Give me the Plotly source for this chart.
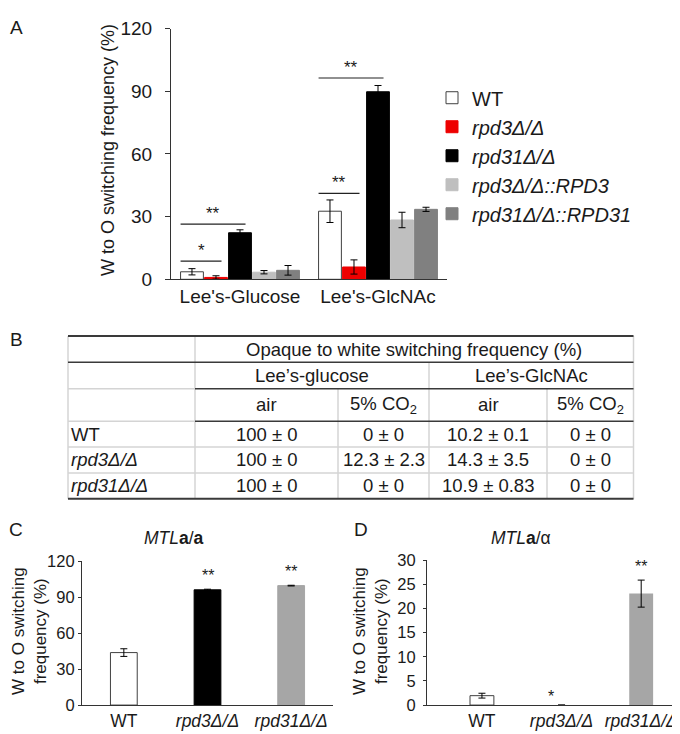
import plotly.graph_objects as go

# ---------------- data ----------------
# Panel A
groups_A = ["Lee's-Glucose", "Lee's-GlcNAc"]
strains_A = ["WT", "<i>rpd3Δ/Δ</i>", "<i>rpd31Δ/Δ</i>", "<i>rpd3Δ/Δ::RPD3</i>", "<i>rpd31Δ/Δ::RPD31</i>"]
values_A = [
    [3.6, 32.6],   # WT
    [0.9, 5.9],    # rpd3
    [22.3, 89.8],  # rpd31
    [3.4, 28.4],   # rpd3::RPD3
    [4.3, 33.5],   # rpd31::RPD31
]
errors_A = [
    [1.5, 5.4],
    [0.8, 3.4],
    [1.4, 3.0],
    [0.8, 3.7],
    [2.3, 1.0],
]
# significance brackets: (group index, compared strain index, height, label)
sig_A = [
    (0, 1, 8.7, "*"),
    (0, 2, 26.4, "**"),
    (1, 1, 41.1, "**"),
    (1, 2, 96.4, "**"),
]
ticks_A = [0, 30, 60, 90, 120]

# Panel B (table)
table_title = "Opaque to white switching frequency (%)"
table_media = ["Lee\u2019s-glucose", "Lee\u2019s-GlcNAc"]
table_cond = ["air", "5% CO<sub>2</sub>", "air", "5% CO<sub>2</sub>"]
table_rows = ["WT", "<i>rpd3Δ/Δ</i>", "<i>rpd31Δ/Δ</i>"]
table_vals = [
    ["100 ± 0", "0 ± 0", "10.2 ± 0.1", "0 ± 0"],
    ["100 ± 0", "12.3 ± 2.3", "14.3 ± 3.5", "0 ± 0"],
    ["100 ± 0", "0 ± 0", "10.9 ± 0.83", "0 ± 0"],
]

# Panel C
cats_C = ["WT", "<i>rpd3Δ/Δ</i>", "<i>rpd31Δ/Δ</i>"]
values_C = [43.8, 96.2, 99.7]
errors_C = [3.2, 0.5, 0.3]
sig_C = ["", "**", "**"]
ticks_C = [0, 30, 60, 90, 120]

# Panel D
cats_D = ["WT", "<i>rpd3Δ/Δ</i>", "<i>rpd31Δ/Δ</i>"]
values_D = [1.95, 0.0, 23.1]
errors_D = [0.5, None, 2.8]
sig_D = ["", "*", "**"]
ticks_D = [0, 5, 10, 15, 20, 25, 30]

# ---------------- styles ----------------
W, H = 680, 734
FONT = "Arial, Liberation Sans, sans-serif"
TXT = "#1a1a1a"
AX = "#333333"
colors_A = ["#ffffff", "#ee0000", "#000000", "#bfbfbf", "#808080"]
lines_A = ["#404040", "#ee0000", "#000000", "#bfbfbf", "#808080"]
colors_C = ["#ffffff", "#000000", "#a6a6a6"]
lines_C = ["#404040", "#000000", "#a6a6a6"]
colors_D = ["#ffffff", "#000000", "#a6a6a6"]
lines_D = ["#404040", "#000000", "#a6a6a6"]
linew_D = [1, 0, 0]


def px(x):
    return x / W


def py(y):
    return 1 - y / H


fig = go.Figure()

# ---------------- Panel A ----------------
for i, name in enumerate(strains_A):
    fig.add_trace(go.Bar(
        x=groups_A, y=values_A[i], name=name,
        marker=dict(color=colors_A[i], line=dict(color=lines_A[i], width=1)),
        error_y=dict(type="data", array=errors_A[i], color="black", thickness=1, width=3.5),
        xaxis="x", yaxis="y",
    ))

bargap_A, bargroupgap_A = 0.13, 0.05
slot = (1 - bargap_A) / len(strains_A)
shapes = []
annotations = []
for g, s, h, lab in sig_A:
    x0 = g - (1 - bargap_A) / 2 + slot * bargroupgap_A / 2
    x1 = g - (1 - bargap_A) / 2 + slot * (s + 0.5) + 0.04
    shapes.append(dict(type="line", xref="x", yref="y", x0=x0, x1=x1, y0=h, y1=h,
                       line=dict(color="#222", width=1.2)))
    annotations.append(dict(xref="x", yref="y", x=(x0 + x1) / 2, y=h, text=lab,
                            showarrow=False, yanchor="bottom", yshift=-1,
                            font=dict(size=17, color=TXT, family=FONT)))

# ---------------- Panel C ----------------
fig.add_trace(go.Bar(
    x=cats_C, y=values_C, width=0.32, showlegend=False,
    marker=dict(color=colors_C, line=dict(color=lines_C, width=1)),
    error_y=dict(type="data", array=errors_C, color="black", thickness=1, width=3.5),
    xaxis="x2", yaxis="y2",
))
for c, v, e, lab in zip(cats_C, values_C, errors_C, sig_C):
    if lab:
        annotations.append(dict(xref="x2", yref="y2", x=c, y=v + e, text=lab, showarrow=False,
                                yanchor="bottom", yshift=3, font=dict(size=16, color=TXT, family=FONT)))

# ---------------- Panel D ----------------
fig.add_trace(go.Bar(
    x=cats_D, y=values_D, width=0.3, showlegend=False,
    marker=dict(color=colors_D, line=dict(color=lines_D, width=linew_D)),
    error_y=dict(type="data", array=errors_D, color="black", thickness=1, width=3.5),
    xaxis="x3", yaxis="y3",
))
for c, v, e, lab in zip(cats_D, values_D, errors_D, sig_D):
    if lab:
        annotations.append(dict(xref="x3", yref="y3", x=c, y=v + (e or 0), text=lab, showarrow=False,
                                xshift=-11 if v == 0 else 0,
                                yanchor="bottom", yshift=-2 if v == 0 else 3,
                                font=dict(size=16, color=TXT, family=FONT)))

# ---------------- Panel B table (drawn) ----------------
col_edges = [60, 187, 330, 421, 539, 625.5]
row_lines = [327.3, 354.3, 381.7, 415, 441.7, 468.3, 495]
dark = "#3a3a3a"
light = "#d4d4d4"
L, R = col_edges[0], col_edges[-1]
# vertical lines
vlines = [(col_edges[0], row_lines[0]), (col_edges[1], row_lines[0]), (col_edges[2], row_lines[2]),
          (col_edges[3], row_lines[1]), (col_edges[4], row_lines[2]), (col_edges[5], row_lines[0])]
for x, ytop in vlines:
    shapes.append(dict(type="line", xref="paper", yref="paper", x0=px(x), x1=px(x),
                       y0=py(ytop), y1=py(row_lines[-1]), line=dict(color=light, width=1.5)))
# horizontal lines
for j in (4, 5):
    shapes.append(dict(type="line", xref="paper", yref="paper", x0=px(L), x1=px(R),
                       y0=py(row_lines[j]), y1=py(row_lines[j]), line=dict(color=light, width=1.5)))
for j in (2, 3):
    shapes.append(dict(type="line", xref="paper", yref="paper", x0=px(L), x1=px(col_edges[1]),
                       y0=py(row_lines[j]), y1=py(row_lines[j]), line=dict(color=light, width=1.5)))
    shapes.append(dict(type="line", xref="paper", yref="paper", x0=px(col_edges[1]), x1=px(R),
                       y0=py(row_lines[j]), y1=py(row_lines[j]), line=dict(color=dark, width=1.5)))
for j, wdt in ((0, 2), (1, 1.5), (6, 2)):
    shapes.append(dict(type="line", xref="paper", yref="paper", x0=px(L), x1=px(R),
                       y0=py(row_lines[j]), y1=py(row_lines[j]), line=dict(color=dark, width=wdt)))


def tcell(x, y, text, anchor="center"):
    annotations.append(dict(xref="paper", yref="paper", x=px(x), y=py(y), text=text,
                            showarrow=False, xanchor=anchor, yanchor="middle",
                            font=dict(size=18.5, color=TXT, family=FONT)))


def mid(a, b):
    return (a + b) / 2


tcell(mid(col_edges[1], col_edges[-1]), mid(row_lines[0], row_lines[1]), table_title)
tcell(mid(col_edges[1], col_edges[3]), mid(row_lines[1], row_lines[2]), table_media[0])
tcell(mid(col_edges[3], col_edges[5]), mid(row_lines[1], row_lines[2]), table_media[1])
for k, cond in enumerate(table_cond):
    tcell(mid(col_edges[k + 1], col_edges[k + 2]), mid(row_lines[2], row_lines[3]), cond)
for r, (lab, vals) in enumerate(zip(table_rows, table_vals)):
    yc = mid(row_lines[3 + r], row_lines[4 + r])
    tcell(col_edges[0] + 1, yc, lab, anchor="left")
    for k, v in enumerate(vals):
        tcell(mid(col_edges[k + 1], col_edges[k + 2]), yc, v)

# ---------------- titles / labels ----------------
def ptext(x, y, text, size, angle=0, anchor="center"):
    annotations.append(dict(xref="paper", yref="paper", x=px(x), y=py(y), text=text,
                            showarrow=False, xanchor=anchor, yanchor="middle", textangle=angle,
                            font=dict(size=size, color=TXT, family=FONT)))


ptext(8, 10, "A", 19)
ptext(8, 331, "B", 19)
ptext(8, 527, "C", 19)
ptext(353, 527, "D", 19)
ptext(100, 136, "W to O switching frequency (%)", 18, angle=-90)
ptext(22, 631, "W to O switching<br>frequency (%)", 17, angle=-90)
ptext(363, 631, "W to O switching<br>frequency (%)", 17, angle=-90)
ptext(166, 535, "<i>MTL</i><b>a</b>/<b>a</b>", 17.5)
ptext(513, 535, "<i>MTL</i><b>a</b>/α", 17.5)

axis_common = dict(showline=True, linecolor=AX, linewidth=1.2, showgrid=False, zeroline=False)

fig.update_layout(
    width=W, height=H, autosize=False,
    margin=dict(l=0, r=0, t=0, b=0),
    paper_bgcolor="white", plot_bgcolor="white",
    font=dict(family=FONT, color=TXT),
    barmode="group", bargap=bargap_A, bargroupgap=bargroupgap_A,
    showlegend=True,
    legend=dict(x=px(424), y=py(62), xanchor="left", yanchor="top",
                font=dict(size=20, family=FONT, color=TXT), bgcolor="rgba(0,0,0,0)",
                tracegroupgap=0),
    xaxis=dict(domain=[px(163), px(439)], anchor="y", ticks="", type="category",
               range=[-0.5, 1.5], tickfont=dict(size=19, family=FONT, color=TXT), **axis_common),
    yaxis=dict(domain=[py(269), py(11)], anchor="x", range=[0, 120], tickvals=ticks_A,
               ticks="outside", ticklen=5, tickcolor=AX, ticklabelstandoff=9,
               tickfont=dict(size=19, family=FONT, color=TXT), **axis_common),
    xaxis2=dict(domain=[px(74), px(325)], anchor="y2", ticks="", type="category",
                range=[-0.5, 2.5], tickfont=dict(size=17.5, family=FONT, color=TXT), **axis_common),
    yaxis2=dict(domain=[py(707.3), py(559.3)], anchor="x2", range=[0, 120], tickvals=ticks_C,
                ticks="outside", ticklen=3, tickcolor=AX,
                tickfont=dict(size=16.5, family=FONT, color=TXT), **axis_common),
    xaxis3=dict(domain=[px(419), px(673)], anchor="y3", ticks="", type="category",
                range=[-0.69, 2.5], tickfont=dict(size=17.5, family=FONT, color=TXT), **axis_common),
    yaxis3=dict(domain=[py(707.3), py(558.3)], anchor="x3", range=[0, 30], tickvals=ticks_D,
                ticks="outside", ticklen=3, tickcolor=AX, ticklabelstandoff=4,
                tickfont=dict(size=16.5, family=FONT, color=TXT), **axis_common),
    shapes=shapes,
    annotations=annotations,
)

fig.write_html("out.html")
